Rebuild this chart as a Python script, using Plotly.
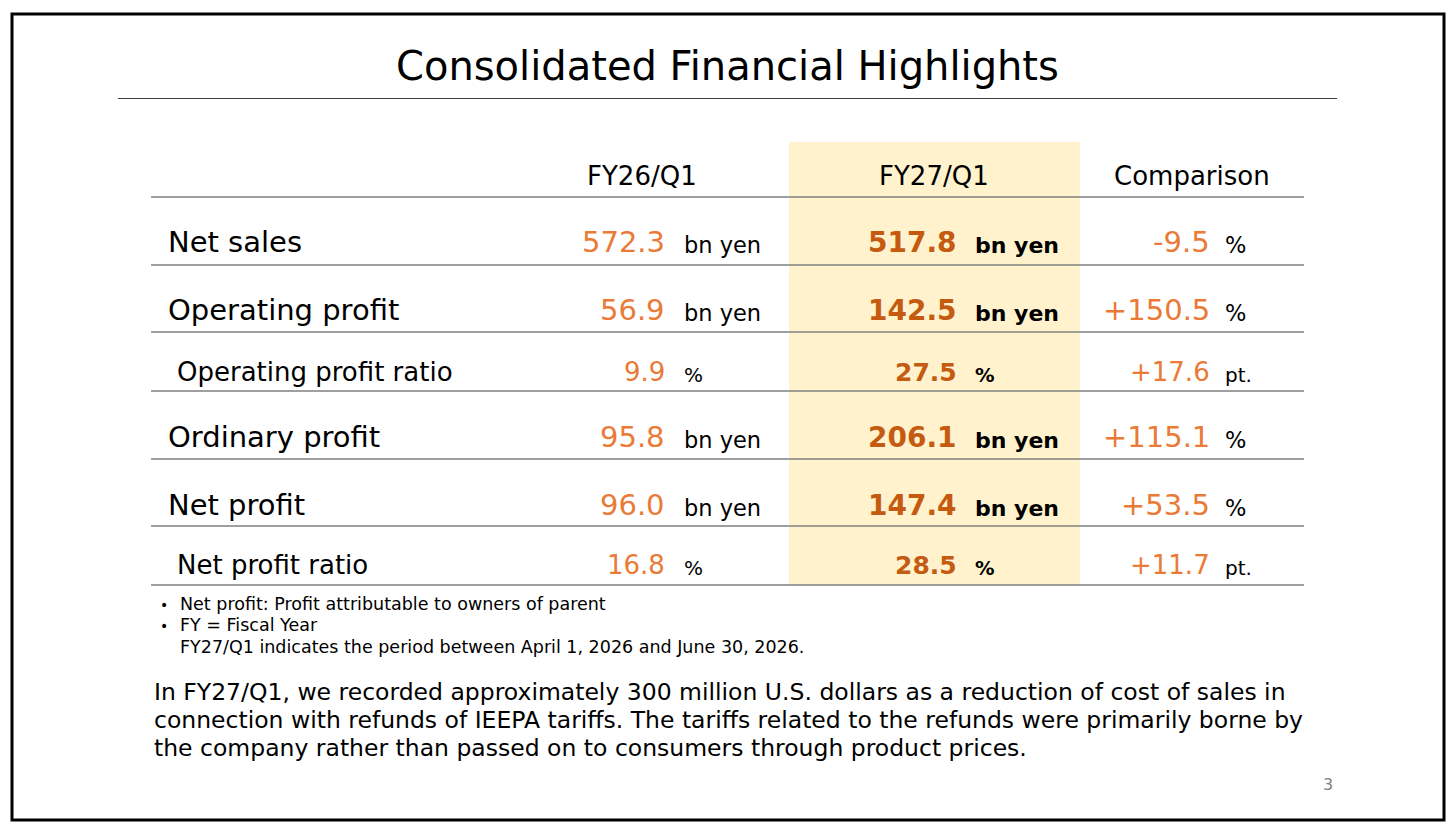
import plotly.graph_objects as go

# ---------------- data ----------------
title = "Consolidated Financial Highlights"
col_headers = ["FY26/Q1", "FY27/Q1", "Comparison"]
metrics = ["Net sales", "Operating profit", "Operating profit ratio",
           "Ordinary profit", "Net profit", "Net profit ratio"]
is_ratio = [False, False, True, False, False, True]
fy26 = [572.3, 56.9, 9.9, 95.8, 96.0, 16.8]
fy27 = [517.8, 142.5, 27.5, 206.1, 147.4, 28.5]
comparison = [-9.5, 150.5, 17.6, 115.1, 53.5, 11.7]
units = ["bn yen", "bn yen", "%", "bn yen", "bn yen", "%"]
comp_units = ["%", "%", "pt.", "%", "%", "pt."]
footnotes = ["Net profit: Profit attributable to owners of parent",
             "FY = Fiscal Year"]
footnote_extra = "FY27/Q1 indicates the period between April 1, 2026 and June 30, 2026."
paragraph = ["In FY27/Q1, we recorded approximately 300 million U.S. dollars as a reduction of cost of sales in",
             "connection with refunds of IEEPA tariffs. The tariffs related to the refunds were primarily borne by",
             "the company rather than passed on to consumers through product prices."]
page_no = "3"

# ---------------- style ----------------
OFF = 8  # page body margin
W, H = 1456 - 2 * OFF, 833 - 2 * OFF
FONT = "DejaVu Sans"
ORANGE = "#EA7A36"
DARK_ORANGE = "#C55A11"
HILITE = "#FFF2CC"
LINE = "#7F7F7F"

fig = go.Figure()
fig.add_trace(go.Scatter(x=[OFF, OFF + W], y=[OFF, OFF + H], mode="markers",
                         marker=dict(opacity=0), hoverinfo="skip", showlegend=False))

annotations = []
shapes = []


def txt(x, baseline, text, size, color="black", anchor="left", bold=False):
    s = f"<b>{text}</b>" if bold else text
    annotations.append(dict(
        x=x, y=baseline - 0.35 * size, xref="x", yref="y", text=s, showarrow=False,
        xanchor=anchor, yanchor="middle", align=anchor, borderpad=0, borderwidth=0,
        font=dict(family=FONT, size=size, color=color)))


# border
shapes.append(dict(type="rect", xref="x", yref="y", x0=12, x1=1444, y0=14, y1=820,
                   line=dict(color="black", width=3), fillcolor="rgba(0,0,0,0)"))
# highlight column
shapes.append(dict(type="rect", xref="x", yref="y", x0=789, x1=1080, y0=142, y1=585,
                   line=dict(width=0), fillcolor=HILITE, layer="below"))
# title + underline
txt(727, 80, title, 40, anchor="center")
shapes.append(dict(type="line", xref="x", yref="y", x0=118, x1=1337, y0=98.5, y1=98.5,
                   line=dict(color="#404040", width=1.2)))

# header
header_x = [642, 934, 1192]
for hx, h in zip(header_x, col_headers):
    txt(hx, 185, h, 26, anchor="center")

row_lines = [197, 265, 332, 391, 459, 526, 585]
for yl in row_lines:
    shapes.append(dict(type="line", xref="x", yref="y", x0=151, x1=1304, y0=yl, y1=yl,
                       line=dict(color=LINE, width=1.6)))

baselines = [252, 320, 381, 447, 515, 574]
for i, m in enumerate(metrics):
    b = baselines[i]
    r = is_ratio[i]
    lsize = 26 if r else 29
    vsize = 26 if r else 29
    usize = 20 if r else 22.5
    txt(177 if r else 168, b, m, lsize)
    txt(665, b, f"{fy26[i]:.1f}", vsize, color=ORANGE, anchor="right")
    txt(684, b + 1, units[i], usize)
    txt(957, b, f"{fy27[i]:.1f}", vsize - 1, color=DARK_ORANGE, anchor="right", bold=True)
    txt(975, b + 1, units[i], usize - 0.5, bold=True)
    txt(1210, b, f"{comparison[i]:+.1f}", vsize, color=ORANGE, anchor="right")
    txt(1225, b + 1, comp_units[i], usize)

# footnotes
fn_base = [610, 631]
for b, f in zip(fn_base, footnotes):
    txt(160, b, "•", 14)
    txt(180, b, f, 17.5)
txt(180, 653, footnote_extra, 17.5)

# paragraph
for b, line in zip([700, 728, 756], paragraph):
    txt(154, b, line, 23.5)

txt(1328, 790, page_no, 16, color="#7F7F7F", anchor="center")

fig.update_layout(
    width=W, height=H,
    margin=dict(l=0, r=0, t=0, b=0),
    paper_bgcolor="white", plot_bgcolor="white",
    xaxis=dict(range=[OFF, OFF + W], visible=False, fixedrange=True),
    yaxis=dict(range=[OFF + H, OFF], visible=False, fixedrange=True),
    annotations=annotations, shapes=shapes,
    showlegend=False,
)
fig.write_html("out.html")
